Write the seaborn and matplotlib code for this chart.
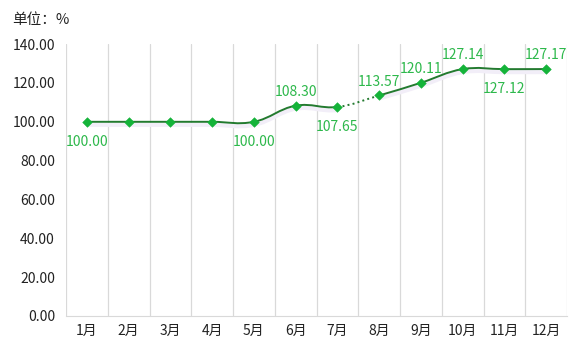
import matplotlib
matplotlib.use("Agg")
import matplotlib.pyplot as plt
from matplotlib.path import Path
from matplotlib.patches import PathPatch
import matplotlib.transforms as mtransforms
import numpy as np
import pandas as pd
import seaborn as sns

months = ["1月", "2月", "3月", "4月", "5月", "6月",
          "7月", "8月", "9月", "10月", "11月", "12月"]
values = [100.00, 100.00, 100.00, 100.00, 100.00, 108.30,
          107.65, 113.57, 120.11, 127.14, 127.12, 127.17]
labels = ["100.00", "", "", "", "100.00", "108.30",
          "107.65", "113.57", "120.11", "127.14", "127.12", "127.17"]
label_pos = ["below", None, None, None, "below", "above",
             "below", "above", "above", "above", "below", "above"]
dotted_segments = [6]  # segment from 7月 to 8月

sns.set_style("white")
plt.rcParams["font.family"] = ["Noto Sans CJK SC", "DejaVu Sans"]

df = pd.DataFrame({"x": np.arange(len(months)), "value": values})

fig = plt.figure(figsize=(5.84, 3.59), dpi=100)
ax = fig.add_axes([0.113, 0.12, 0.858, 0.757])

line_color = "#237a2f"
marker_color = "#14b339"
label_color = "#2db84b"

# smooth curve segments (catmull-rom style bezier)
pts = df[["x", "value"]].to_numpy()
t = 0.2
n = len(pts)
shadow_tr = mtransforms.offset_copy(ax.transData, fig=fig, x=0, y=-3, units="dots")
for i in range(n - 1):
    p0 = pts[i]
    p1 = pts[i + 1]
    prev = pts[i - 1] if i > 0 else p0
    nxt = pts[i + 2] if i + 2 < n else p1
    c1 = p0 + (p1 - prev) * t
    c2 = p1 - (nxt - p0) * t
    path = Path([p0, c1, c2, p1], [Path.MOVETO, Path.CURVE4, Path.CURVE4, Path.CURVE4])
    ls = ":" if i in dotted_segments else "-"
    if i not in dotted_segments:
        ax.add_patch(PathPatch(path, facecolor="none", edgecolor="#f2eef8",
                               lw=3, transform=shadow_tr, zorder=2))
    ax.add_patch(PathPatch(path, facecolor="none", edgecolor=line_color,
                           lw=1.4, linestyle=ls, zorder=3))

sns.scatterplot(data=df, x="x", y="value", marker="D", s=24,
                color=marker_color, edgecolor=marker_color, zorder=4, ax=ax)

for i, (v, lab, pos) in enumerate(zip(values, labels, label_pos)):
    if not lab:
        continue
    dy = 10 if pos == "above" else -14.5
    ax.annotate(lab, (i, v), xytext=(0, dy), textcoords="offset points",
                ha="center", va="center", color=label_color, fontsize=10)

ax.set_xlim(-0.5, 11.5)
ax.set_ylim(0, 140)
ax.set_xticks(np.arange(n))
ax.set_xticklabels(months)
ax.set_xticks(np.arange(-0.5, 12, 1), minor=True)
yt = np.arange(0, 141, 20)
ax.set_yticks(yt)
ax.set_yticklabels([f"{v:.2f}" for v in yt])
ax.tick_params(axis="both", which="both", length=0, labelsize=10, colors="#222222")
ax.tick_params(axis="y", pad=8)
ax.tick_params(axis="x", pad=6)
ax.grid(False)
ax.grid(True, axis="x", which="minor", color="#d9d9d9", lw=0.9)
for s in ["top", "right", "left"]:
    ax.spines[s].set_visible(False)
ax.spines["bottom"].set_color("#d9d9d9")
ax.set_xlabel("")
ax.set_ylabel("")

fig.text(12 / 584, 1 - 20 / 359, "单位：%", fontsize=10.5, color="#222222",
         ha="left", va="center")

fig.savefig("out.png", dpi=100)
plt.close(fig)
